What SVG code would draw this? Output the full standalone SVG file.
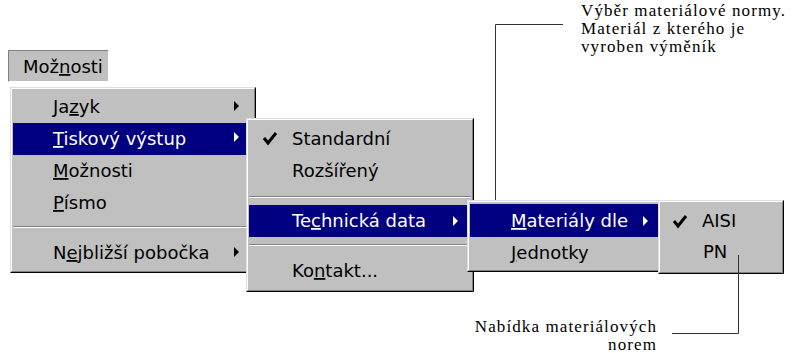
<svg xmlns="http://www.w3.org/2000/svg" width="792" height="353" viewBox="0 0 792 353">
<style>
.face{fill:#c0c0c0}
.hl{fill:#000080}
.lt{stroke:#dfdfdf;fill:none}
.wh{stroke:#ffffff;fill:none}
.dg{stroke:#808080;fill:none}
.bk{stroke:#000000;fill:none}
.t{font-family:"DejaVu Sans","Liberation Sans",sans-serif;font-size:18px;fill:#000}
.tw{font-family:"DejaVu Sans","Liberation Sans",sans-serif;font-size:18px;fill:#fff}
.note{font-family:'Liberation Serif','DejaVu Serif',serif;font-size:17px;letter-spacing:1.1px;fill:#000}
.arr{fill:#000}
.arrw{fill:#fff}
.chk{stroke:#000;stroke-width:3;fill:none;stroke-linejoin:miter}
.con{stroke:#333;stroke-width:1;fill:none}
</style>
<rect width="792" height="353" fill="#fff"/>

<g id="btn-moznosti">
<rect class="face" x="8" y="50" width="101" height="32"/>
<path class="dg" d="M8.5,81.5 V50.5 H108.5"/>
<path class="wh" d="M8.5,81.5 H108.5 V50.5"/>
<text class="t" x="23" y="73">Mož<tspan text-decoration="underline">n</tspan>osti</text>
</g>

<g id="menu-main">
<rect class="face" x="10" y="87" width="246" height="186"/>
<path class="lt" d="M10.5,272.5 V87.5 H255.5"/>
<path class="wh" d="M11.5,271.5 V88.5 H254.5"/>
<path class="dg" d="M11.5,271.5 H254.5 V88.5"/>
<path class="bk" d="M10.5,272.5 H255.5 V87.5"/>
<rect class="hl" x="13" y="123" width="240" height="32"/>
<line class="dg" x1="13" y1="226.5" x2="253" y2="226.5"/>
<line class="wh" x1="13" y1="227.5" x2="253" y2="227.5"/>
<text class="t" x="53" y="113">Ja<tspan text-decoration="underline">z</tspan>yk</text>
<text class="tw" x="53" y="145"><tspan text-decoration="underline">T</tspan>iskový výstup</text>
<text class="t" x="53" y="177"><tspan text-decoration="underline">M</tspan>ožnosti</text>
<text class="t" x="53" y="209"><tspan text-decoration="underline">P</tspan>ísmo</text>
<text class="t" x="53" y="259">N<tspan text-decoration="underline">e</tspan>jbližší pobočka</text>
<polygon class="arr" points="234,101 234,111 239,106"/>
<polygon class="arrw" points="234,132 234,142 239,137"/>
<polygon class="arr" points="234,247 234,257 239,252"/>
</g>

<g id="menu-tisk">
<rect class="face" x="246" y="118" width="228" height="174"/>
<path class="lt" d="M246.5,291.5 V118.5 H473.5"/>
<path class="wh" d="M247.5,290.5 V119.5 H472.5"/>
<path class="dg" d="M247.5,290.5 H472.5 V119.5"/>
<path class="bk" d="M246.5,291.5 H473.5 V118.5"/>
<line class="dg" x1="249" y1="196.5" x2="471" y2="196.5"/>
<line class="wh" x1="249" y1="197.5" x2="471" y2="197.5"/>
<rect class="hl" x="249" y="205" width="222" height="32"/>
<line class="dg" x1="249" y1="244.5" x2="471" y2="244.5"/>
<line class="wh" x1="249" y1="245.5" x2="471" y2="245.5"/>
<path class="chk" d="M264,138 L268,143 L276,133"/>
<text class="t" x="292" y="145">Standardní</text>
<text class="t" x="292" y="177">Rozšířený</text>
<text class="tw" x="292" y="227">Te<tspan text-decoration="underline">c</tspan>hnická data</text>
<text class="t" x="292" y="277">Ko<tspan text-decoration="underline">n</tspan>takt...</text>
<polygon class="arrw" points="453,216 453,226 458,221"/>
</g>

<g id="menu-tech">
<rect class="face" x="467" y="200" width="196" height="72"/>
<path class="lt" d="M467.5,271.5 V200.5 H662.5"/>
<path class="wh" d="M468.5,270.5 V201.5 H661.5"/>
<path class="dg" d="M468.5,270.5 H661.5 V201.5"/>
<path class="bk" d="M467.5,271.5 H662.5 V200.5"/>
<rect class="hl" x="470" y="204" width="190" height="33"/>
<text class="tw" x="511" y="227"><tspan text-decoration="underline">M</tspan>ateriály dle</text>
<text class="t" x="511" y="259"><tspan text-decoration="underline">J</tspan>ednotky</text>
<polygon class="arrw" points="643,216 643,226 648,221"/>
</g>

<g id="menu-normy">
<rect class="face" x="658" y="200" width="126" height="74"/>
<path class="lt" d="M658.5,273.5 V200.5 H783.5"/>
<path class="wh" d="M659.5,272.5 V201.5 H782.5"/>
<path class="dg" d="M659.5,272.5 H782.5 V201.5"/>
<path class="bk" d="M658.5,273.5 H783.5 V200.5"/>
<path class="chk" d="M674,221 L678,226 L686,216"/>
<text class="t" x="702" y="227">AISI</text>
<text class="t" x="703" y="258">PN</text>
</g>

<g id="connectors">
<path class="con" d="M563,24.5 H495.5 V200"/>
<path class="con" d="M738.5,255 V333.5 H672"/>
</g>

<g id="note-vyber">
<text class="note" x="581" y="16">Výběr materiálové normy.<tspan x="581" dy="18">Materiál z kterého je</tspan><tspan x="581" dy="18">vyroben výměník</tspan></text>
</g>

<g id="note-nabidka">
<text class="note" x="657" y="332" text-anchor="end">Nabídka materiálových<tspan x="657" dy="18">norem</tspan></text>
</g>
</svg>
